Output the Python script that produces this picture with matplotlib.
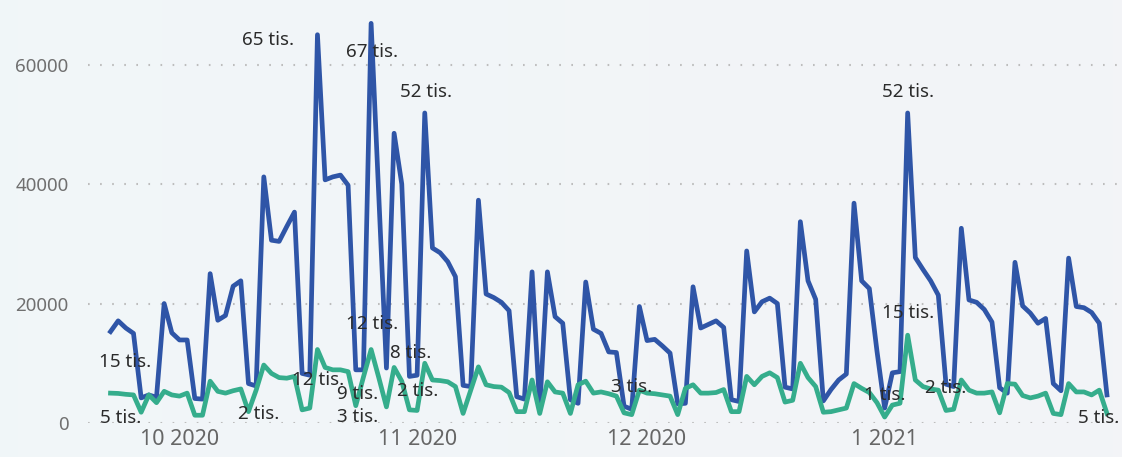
import matplotlib
matplotlib.use("Agg")
import matplotlib.pyplot as plt
import matplotlib.dates as mdates
import numpy as np
import pandas as pd

# daily values, 22 Sep 2020 .. 30 Jan 2021
start_date = "2020-09-22"
blue_values = [
    15300, 17100, 15900, 15000, 4200, 4700, 4300, 20000, 15100, 13900,
    13900, 4100, 4000, 25000, 17200, 18000, 22900, 23800, 6600, 6200,
    41200, 30600, 30400, 32900, 35300, 8300, 8000, 65000, 40700, 41200,
    41500, 39800, 8900, 8900, 66900, 38000, 9200, 48500, 40000, 7800,
    8000, 51900, 29300, 28500, 27000, 24500, 6300, 6100, 37300, 21600,
    21000, 20200, 18800, 4400, 4000, 25300, 2500, 25300, 17800, 16700,
    3900, 3300, 23600, 15700, 15000, 11900, 11800, 2800, 2300, 19500,
    13800, 14000, 12900, 11700, 3200, 3300, 22800, 15900, 16500, 17100,
    16000, 3900, 3600, 28800, 18600, 20300, 20900, 20000, 6000, 5700,
    33700, 23800, 20700, 3700, 5600, 7200, 8200, 36800, 23800, 22500,
    12000, 2500, 8400, 8600, 51900, 27700, 25700, 23800, 21400, 6500,
    6100, 32600, 20600, 20200, 19000, 16900, 5900, 5000, 26900, 19600,
    18400, 16700, 17500, 6600, 5400, 27600, 19500, 19300, 18500, 16700,
    4700,
]
green_values = [
    5000, 4950, 4800, 4700, 1800, 4700, 3400, 5300, 4700, 4500,
    5000, 1300, 1300, 7000, 5300, 5000, 5400, 5700, 1900, 5500,
    9700, 8300, 7600, 7500, 7800, 2200, 2500, 12300, 9300, 8900,
    8900, 8600, 2900, 7700, 12300, 7600, 2700, 9300, 7000, 2200,
    2100, 10000, 7200, 7100, 6900, 6100, 1600, 5500, 9400, 6400,
    6100, 6000, 5100, 1900, 1900, 7200, 1600, 6900, 5200, 5000,
    1600, 6400, 7000, 5000, 5200, 4900, 4500, 1700, 1400, 5500,
    5000, 4900, 4700, 4500, 1400, 5800, 6400, 5000, 5000, 5100,
    5600, 1900, 1900, 7800, 6400, 7800, 8400, 7600, 3500, 3800,
    10000, 7600, 6100, 1800, 1900, 2200, 2500, 6600, 5800, 5100,
    3400, 1000, 3000, 3300, 14700, 7200, 6100, 5700, 5500, 2100,
    2300, 7200, 5500, 5000, 5000, 5200, 1700, 6600, 6500, 4600,
    4200, 4500, 5000, 1600, 1400, 6600, 5200, 5200, 4700, 5500,
    1600,
]
month_ticks = ["2020-10-01", "2020-11-01", "2020-12-01", "2021-01-01"]
month_labels = ["10 2020", "11 2020", "12 2020", "1 2021"]
y_ticks = [0, 20000, 40000, 60000]

# which points carry a data label: index -> offset in pixels (dx, dy)
blue_labels = {0: (15, -30), 27: (-49, -5), 34: (1, -29), 41: (1, 21),
               104: (0, 21), 32: (2, -24), 39: (1, 23), 67: (8, 19),
               130: (-8, -23)}
green_labels = {0: (10, -25), 18: (10, -2), 27: (1, -30), 34: (1, 26),
                32: (2, -11), 40: (1, 19), 101: (0, 22), 104: (0, 22),
                109: (0, 22)}

BLUE = "#2F55A7"
GREEN = "#35AD8C"
FONT = "Noto Sans"

dates = pd.date_range(start_date, periods=len(blue_values), freq="D")

fig = plt.figure(figsize=(11.22, 4.57), dpi=100)

# faint background picture
bg = fig.add_axes([0, 0, 1, 1], zorder=-1)
grad = np.linspace(0, 1, 256)
left = np.array([0.945, 0.966, 0.973])
right = np.array([0.953, 0.957, 0.972])
img = left[None, None, :] * (1 - grad[None, :, None]) + right[None, None, :] * grad[None, :, None]
bg.imshow(img, aspect="auto", extent=[0, 1, 0, 1])
bg.axis("off")

ax = fig.add_axes([88 / 1122, 34 / 457, 1 - 88 / 1122, 1 - 34 / 457])
ax.set_facecolor("none")

ax.plot(dates, blue_values, color=BLUE, lw=3.4, solid_joinstyle="round", zorder=3)
ax.plot(dates, green_values, color=GREEN, lw=3.4, solid_joinstyle="round", zorder=3)

for labels, values in ((blue_labels, blue_values), (green_labels, green_values)):
    for i, (dx, dy) in labels.items():
        ax.annotate("%d tis." % round(values[i] / 1000), (dates[i], values[i]),
                    xytext=(dx, dy), textcoords="offset pixels",
                    ha="center", va="center", fontsize=13.5, color="#2B2B2B",
                    family=FONT, zorder=4)

x0 = mdates.date2num(dates[0])
ax.set_xlim(x0 - 22.5 / 7.665, x0 + (1122 - 110.5) / 7.665)
ax.set_ylim(0, 423 * 167.4)

ax.set_yticks(y_ticks)
ax.set_yticklabels([str(t) for t in y_ticks])
ax.set_xticks([mdates.date2num(pd.Timestamp(d)) for d in month_ticks])
ax.set_xticklabels(month_labels)
ax.tick_params(axis="y", length=0, pad=14, labelsize=13.5, labelcolor="#707070")
ax.tick_params(axis="x", length=0, pad=4, labelsize=15.5, labelcolor="#666666")
for lab in ax.get_xticklabels() + ax.get_yticklabels():
    lab.set_family(FONT)

ax.grid(axis="y", color="#BDBDBD", lw=1.5, linestyle=(0, (0.8, 5)))
ax.grid(axis="x", visible=False)
for s in ax.spines.values():
    s.set_visible(False)

fig.savefig("out.png", dpi=100)
